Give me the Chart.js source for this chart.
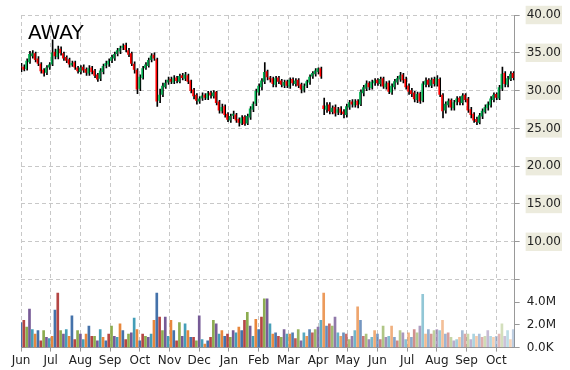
<!DOCTYPE html>
<html>
<head>
<meta charset="utf-8">
<script src="https://cdn.jsdelivr.net/npm/chart.js@4.4.0/dist/chart.umd.min.js"></script>
<style>
  html, body { margin: 0; padding: 0; background: #fff; }
  #wrap { position: relative; width: 570px; height: 370px; }
  #title { position: absolute; left: 28px; top: 22px; font: 20px/20px "DejaVu Sans", sans-serif; color: #000; }
</style>
</head>
<body>
<div id="wrap">
  <canvas id="chart" width="570" height="370"></canvas>
  <div id="title">AWAY</div>
</div>
<script>
// month labels and the trading day each month starts on
var monthLabels = ["Jun", "Jul", "Aug", "Sep", "Oct", "Nov", "Dec", "Jan", "Feb", "Mar", "Apr", "May", "Jun", "Jul", "Aug", "Sep", "Oct"];
var monthStarts = [0, 21, 42, 63, 84, 105, 126, 147, 168, 189, 210, 231, 252, 273, 294, 315, 336];

// one candle every second trading day
var opens = [
  33.2, 33.1, 32.9, 33.8, 34.6, 34.9, 34.2, 33.5, 32.7, 32.4, 33.1,
  33.5, 35.1, 34.5, 35.5, 34.9, 34.4, 34.1, 33.4, 33.7, 33.0,
  32.5, 33.1, 32.8, 32.3, 33.0, 32.6, 32.1, 31.6, 32.5, 33.3, 33.5,
  34.0, 34.3, 34.9, 35.2, 35.7, 36.0, 35.3, 34.9, 33.5, 32.7,
  30.3, 31.7, 33.0, 33.3, 34.1, 34.7, 34.1, 28.7, 29.5, 30.5, 31.1,
  31.5, 31.1, 31.7, 31.2, 32.0, 31.6, 32.0, 31.3, 30.1, 29.4,
  28.6, 29.0, 29.4, 29.0, 29.7, 29.3, 29.8, 28.5, 27.3, 27.9, 26.9,
  26.1, 26.7, 26.8, 26.2, 25.7, 26.5, 25.7, 26.5, 27.5, 28.3, 29.8,
  30.5, 31.2, 32.5, 31.7, 31.6, 30.8, 31.7, 31.3, 30.7, 31.2,
  30.6, 31.5, 30.9, 31.4, 30.8, 30.1, 30.7, 31.1, 31.9, 32.2, 32.5,
  32.9, 28.0, 27.5, 28.1, 27.2, 27.8, 27.1, 27.6, 27.2, 26.8,
  27.8, 28.5, 28.1, 28.6, 28.2, 29.7, 30.3, 31.0, 30.4, 31.0, 31.4,
  30.9, 31.6, 30.5, 31.0, 29.8, 30.5, 31.1, 31.5, 32.1, 31.5,
  30.6, 30.0, 29.7, 28.8, 29.6, 28.7, 30.8, 31.4, 30.7, 31.5, 30.8,
  31.5, 29.4, 27.4, 28.1, 28.7, 27.7, 28.5, 29.0, 28.4, 29.4,
  28.9, 27.5, 26.9, 26.2, 25.8, 26.6, 27.2, 27.7, 28.1, 28.8, 29.5,
  29.0, 30.3, 32.3, 30.8, 31.5, 32.3
];
var highs = [
  33.6, 33.4, 34.2, 35.2, 35.3, 35.1, 34.5, 33.7, 32.9, 33.3, 33.7,
  36.7, 35.5, 35.9, 35.8, 35.1, 34.6, 34.3, 33.9, 33.9, 33.2,
  33.3, 33.4, 33.0, 33.3, 33.2, 32.8, 32.3, 32.9, 33.5, 33.9, 34.2,
  34.7, 35.1, 35.6, 35.9, 36.2, 36.3, 35.6, 35.1, 33.8, 32.9,
  32.1, 33.2, 33.7, 34.3, 34.9, 35.0, 34.3, 30.2, 31.0, 31.4, 31.8,
  31.8, 32.0, 31.9, 32.2, 32.3, 32.4, 32.2, 31.4, 30.3, 29.6,
  29.2, 29.7, 29.6, 29.9, 29.9, 30.0, 29.9, 28.7, 28.2, 28.1, 27.1,
  26.9, 27.3, 27.0, 26.4, 26.7, 26.7, 26.9, 27.9, 28.5, 30.2, 30.9,
  31.6, 33.7, 32.7, 31.9, 31.8, 31.9, 31.9, 31.5, 31.4, 31.4,
  31.7, 31.7, 31.6, 31.6, 31.0, 30.9, 31.4, 32.1, 32.5, 32.9, 33.0,
  33.1, 29.0, 28.4, 28.4, 28.0, 28.1, 27.8, 27.9, 27.5, 28.2,
  28.7, 28.8, 28.8, 28.8, 30.1, 30.7, 31.3, 31.2, 31.4, 31.6, 31.6,
  31.8, 31.8, 31.2, 31.3, 30.9, 31.5, 31.9, 32.4, 32.3, 31.8,
  30.9, 30.3, 29.9, 29.8, 29.8, 31.2, 31.7, 31.6, 31.7, 31.8, 32.0,
  31.7, 29.6, 28.5, 28.9, 28.9, 28.7, 29.2, 29.2, 29.6, 29.6,
  29.1, 27.8, 27.1, 26.5, 27.0, 27.6, 28.1, 28.5, 29.2, 29.7, 29.7,
  30.7, 33.1, 32.5, 31.9, 32.5, 32.5
];
var lows = [
  32.5, 32.6, 32.7, 33.6, 34.3, 33.8, 33.3, 32.3, 31.9, 32.1, 32.8,
  33.3, 34.2, 34.2, 34.7, 34.0, 33.7, 33.1, 33.2, 32.8, 32.3,
  32.2, 32.4, 32.0, 32.0, 32.2, 31.7, 31.2, 31.3, 32.2, 33.0, 33.2,
  33.7, 34.0, 34.6, 34.9, 35.4, 35.1, 34.5, 33.3, 32.3, 29.6,
  30.0, 31.5, 32.8, 33.1, 33.8, 34.0, 27.9, 28.4, 29.2, 30.3, 30.8,
  30.9, 30.9, 31.0, 31.0, 31.4, 31.3, 30.9, 29.7, 28.9, 28.2,
  28.3, 28.7, 28.8, 28.8, 29.0, 29.0, 28.1, 27.0, 27.0, 26.5, 25.9,
  25.8, 26.3, 25.8, 25.3, 25.5, 25.4, 25.5, 26.2, 27.2, 28.0, 29.4,
  30.1, 30.9, 31.4, 31.1, 30.5, 30.5, 30.9, 30.5, 30.4, 30.4,
  30.3, 30.7, 30.6, 30.4, 29.7, 29.8, 30.4, 30.8, 31.6, 31.9, 32.2,
  31.6, 26.8, 27.1, 26.9, 26.9, 26.6, 26.8, 26.8, 26.4, 26.5,
  27.5, 27.8, 27.8, 27.7, 28.0, 29.3, 30.0, 30.1, 30.2, 30.7, 30.7,
  30.6, 30.3, 30.2, 29.6, 29.5, 30.2, 30.8, 31.2, 31.0, 30.2,
  29.5, 29.2, 28.5, 28.4, 28.3, 28.5, 30.5, 30.5, 30.4, 30.6, 30.6,
  29.2, 26.4, 27.0, 27.8, 27.4, 27.4, 28.1, 28.1, 28.1, 28.5,
  27.1, 26.4, 25.8, 25.5, 25.6, 26.3, 27.0, 27.4, 27.8, 28.5, 28.8,
  28.8, 30.0, 30.5, 30.5, 31.3, 31.4
];
var closes = [
  33.0, 32.8, 33.9, 34.8, 34.9, 34.1, 33.6, 32.6, 32.3, 33.0, 33.4,
  35.0, 34.6, 35.4, 35.0, 34.3, 34.0, 33.5, 33.6, 33.1, 32.6,
  33.0, 32.7, 32.4, 32.9, 32.5, 32.0, 31.5, 32.6, 33.2, 33.6, 33.9,
  34.4, 34.8, 35.3, 35.6, 35.9, 35.4, 34.8, 33.6, 32.8, 30.2,
  31.8, 32.9, 33.4, 34.0, 34.6, 34.3, 28.6, 29.4, 30.6, 31.0, 31.4,
  31.2, 31.6, 31.3, 31.9, 31.7, 32.1, 31.2, 30.0, 29.3, 28.7,
  28.9, 29.3, 29.1, 29.6, 29.4, 29.7, 28.4, 27.4, 27.8, 26.8, 26.2,
  26.6, 26.9, 26.1, 25.8, 26.4, 25.6, 26.6, 27.6, 28.2, 29.9, 30.6,
  31.3, 32.4, 31.8, 31.5, 30.9, 31.6, 31.2, 30.8, 31.1, 30.7,
  31.4, 31.0, 31.3, 30.7, 30.2, 30.6, 31.2, 31.8, 32.3, 32.6, 32.9,
  31.9, 27.6, 28.0, 27.3, 27.7, 27.0, 27.5, 27.1, 26.9, 27.9,
  28.4, 28.2, 28.5, 28.1, 29.8, 30.4, 30.9, 30.5, 31.1, 31.3, 31.0,
  31.5, 30.6, 30.9, 29.9, 30.6, 31.2, 31.6, 32.0, 31.4, 30.5,
  29.9, 29.6, 28.9, 29.5, 28.6, 30.9, 31.3, 30.8, 31.4, 30.9, 31.6,
  29.5, 27.3, 28.2, 28.6, 27.8, 28.4, 28.9, 28.5, 29.3, 28.8,
  27.4, 26.8, 26.1, 25.9, 26.7, 27.3, 27.8, 28.2, 28.9, 29.4, 29.1,
  30.4, 32.2, 30.9, 31.6, 32.2, 31.7
];
// volume in millions
var volumes = [
  2.2, 2.4, 1.8, 3.4, 1.6, 1.2, 1.5, 0.6, 1.5, 0.9, 0.8,
  1.0, 3.3, 4.8, 1.5, 1.2, 1.6, 1.0, 2.8, 0.7, 1.5,
  1.2, 0.7, 1.2, 1.9, 1.0, 1.0, 0.6, 1.6, 0.9, 0.6, 1.2,
  1.9, 1.0, 0.9, 2.1, 1.5, 0.7, 1.2, 1.3, 2.6, 1.6,
  0.6, 1.2, 1.0, 0.9, 1.2, 2.4, 4.8, 2.7, 1.5, 2.7, 1.0,
  2.4, 1.5, 0.6, 2.2, 1.0, 2.1, 1.5, 0.9, 0.9, 0.6,
  2.8, 0.7, 0.3, 0.6, 0.9, 2.4, 2.1, 1.2, 1.5, 1.0, 1.2,
  0.9, 1.5, 1.3, 1.8, 1.5, 2.4, 3.1, 1.9, 1.0, 2.5, 1.6,
  2.7, 4.3, 4.3, 2.1, 1.2, 1.3, 1.0, 0.9, 1.6, 1.2,
  1.2, 1.3, 0.8, 1.6, 0.6, 1.3, 1.0, 1.6, 1.3, 1.6, 1.8,
  2.4, 4.8, 1.9, 2.1, 1.9, 2.7, 1.3, 1.0, 1.3, 1.2,
  0.7, 1.0, 1.5, 3.6, 2.4, 1.0, 1.2, 0.7, 0.9, 1.5, 1.2,
  0.7, 1.9, 0.9, 1.0, 1.9, 0.9, 0.6, 1.5, 1.3, 0.7,
  1.3, 0.9, 1.6, 1.3, 1.9, 4.7, 1.2, 1.6, 1.2, 1.5, 1.6,
  1.5, 2.4, 1.2, 1.3, 0.9, 0.6, 0.7, 0.9, 1.5, 1.2,
  1.2, 0.7, 1.2, 1.0, 1.2, 0.9, 1.0, 1.5, 1.0, 0.9, 1.0,
  1.2, 2.1, 1.0, 1.5, 0.7, 1.6
];

var priceTicks = [40, 35, 30, 25, 20, 15, 10];
var volTicks = [0, 2, 4];
var volTickLabels = ["0.0K", "2.0M", "4.0M"];

var volPalette = [[68,114,170], [180,70,68], [140,172,80], [118,90,150], [68,158,184], [232,135,60]];

var wickData = [], bodyData = [], volData = [], bodyColors = [], volColors = [];
for (var i = 0; i < closes.length; i++) {
    var day = i * 2;
    wickData.push({ x: day, y: [lows[i], highs[i]] });
    bodyData.push({ x: day, y: [opens[i], closes[i]] });
    volData.push({ x: day, y: volumes[i] });
    bodyColors.push(closes[i] >= opens[i] ? '#00B050' : '#FF0000');
    // later bars get paler
    var a = i < 85 ? 1 : 1 - (i - 85) / 89 * 0.65;
    var c = volPalette[i % volPalette.length];
    volColors.push('rgba(' + c[0] + ',' + c[1] + ',' + c[2] + ',' + a.toFixed(2) + ')');
}

var font = { family: 'DejaVu Sans', size: 12 };

var ctx = document.getElementById('chart').getContext('2d');
var chart = new Chart(ctx, {
    type: 'bar',
    data: {
        datasets: [
            {
                label: 'Volume',
                data: volData,
                yAxisID: 'yv',
                backgroundColor: volColors,
                barThickness: 2,
                grouped: false,
                order: 3
            },
            {
                label: 'Range',
                data: wickData,
                yAxisID: 'y',
                backgroundColor: '#000',
                barThickness: 1,
                order: 2
            },
            {
                label: 'Body',
                data: bodyData,
                yAxisID: 'y',
                backgroundColor: bodyColors,
                barThickness: 1,
                minBarLength: 1,
                order: 1
            }
        ]
    },
    options: {
        responsive: false,
        animation: false,
        layout: { padding: { left: 21, top: 15, right: 2, bottom: 0 } },
        plugins: {
            legend: { display: false },
            tooltip: { enabled: false }
        },
        scales: {
            x: {
                type: 'linear',
                min: 0,
                max: 349,
                offset: false,
                grid: { offset: false, color: '#c8c8c8', tickColor: '#999', tickLength: 4 },
                border: { color: '#999', dash: [4, 3] },
                afterBuildTicks: function(axis) {
                    axis.ticks = monthStarts.map(function(v) { return { value: v }; });
                },
                ticks: {
                    autoSkip: false,
                    maxRotation: 0,
                    padding: 2,
                    color: '#222',
                    font: font,
                    callback: function(v) {
                        var idx = monthStarts.indexOf(v);
                        return idx >= 0 ? monthLabels[idx] : '';
                    }
                }
            },
            y: {
                position: 'right',
                stack: 'right',
                stackWeight: 262.5,
                min: 5,
                max: 40,
                grid: { color: '#c8c8c8', tickColor: '#999', tickLength: 5 },
                border: { color: '#999', dash: [4, 3] },
                afterBuildTicks: function(axis) {
                    axis.ticks = [{ value: 5 }].concat(priceTicks.map(function(v) { return { value: v }; }));
                },
                ticks: {
                    padding: 7,
                    color: '#222',
                    font: font,
                    showLabelBackdrop: function(c) { return c.tick && c.tick.value !== 5; },
                    backdropColor: '#ecebdd',
                    backdropPadding: { x: 1, y: 2 },
                    callback: function(v) { return priceTicks.indexOf(v) >= 0 ? v.toFixed(2) : ''; }
                }
            },
            yv: {
                position: 'right',
                stack: 'right',
                stackWeight: 67.5,
                min: 0,
                max: 6,
                grid: { drawOnChartArea: false, tickColor: '#999', tickLength: 5 },
                border: { color: '#999' },
                afterBuildTicks: function(axis) {
                    axis.ticks = volTicks.map(function(v) { return { value: v }; });
                },
                ticks: {
                    padding: 7,
                    color: '#222',
                    font: font,
                    callback: function(v) {
                        var idx = volTicks.indexOf(v);
                        return idx >= 0 ? volTickLabels[idx] : '';
                    }
                }
            }
        }
    }
});
</script>
</body>
</html>
